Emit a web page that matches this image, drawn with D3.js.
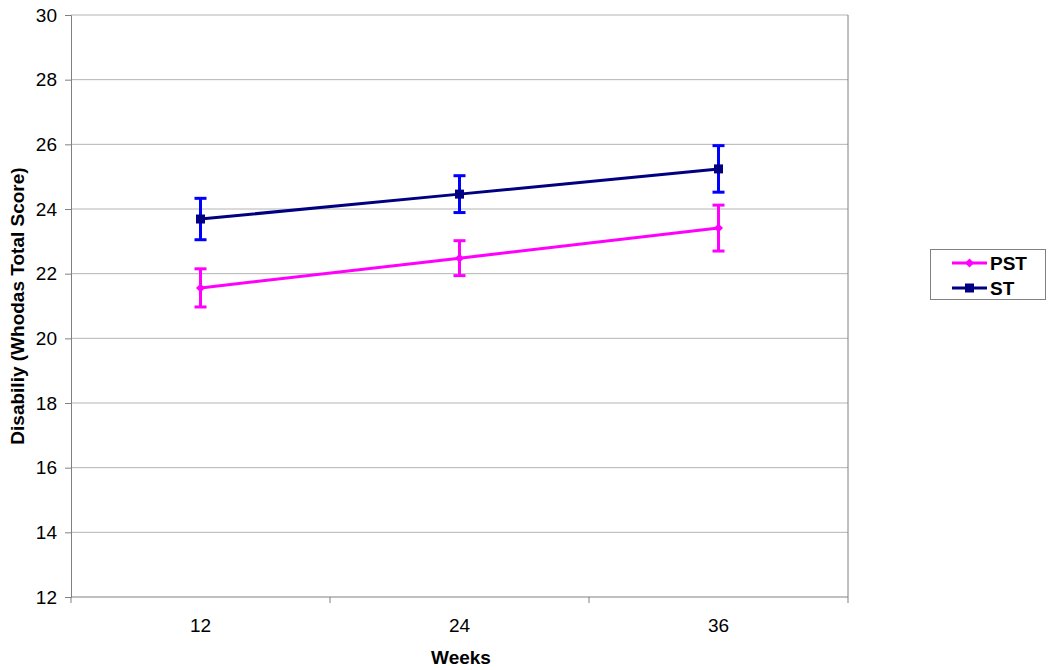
<!DOCTYPE html>
<html>
<head>
<meta charset="utf-8">
<script src="https://cdn.jsdelivr.net/npm/d3@7"></script>
<style>
  body { margin: 0; background: #fff; }
  svg { font-family: "Liberation Sans", Arial, sans-serif; }
</style>
</head>
<body>
<div id="chart"></div>
<script>
// DATA
const weeks = ["12", "24", "36"];
const series_names = ["PST", "ST"];
const pst_values = [21.56, 22.48, 23.41];
const pst_errors = [0.59, 0.54, 0.71];
const st_values = [23.69, 24.46, 25.24];
const st_errors = [0.64, 0.57, 0.72];
const y_ticks = [12, 14, 16, 18, 20, 22, 24, 26, 28, 30];

const series = [
    {name: series_names[0], values: pst_values, errors: pst_errors, line: "#ff00ff", bar: "#ff00ff", marker: "diamond"},
    {name: series_names[1], values: st_values, errors: st_errors, line: "#000080", bar: "#0000ff", marker: "square"},
];

const settings = {
    width: 1050,
    height: 670,
    marginLeft: 71,
    marginTop: 15,
    plotRight: 848,
    plotBottom: 597,
    font: 19,
}

const svg = d3.select("#chart").append("svg")
    .attr("width", settings.width)
    .attr("height", settings.height);

const x = d3.scaleBand()
    .domain(weeks)
    .range([settings.marginLeft, settings.plotRight]);

const y = d3.scaleLinear()
    .domain([12, 30])
    .range([settings.plotBottom, settings.marginTop]);

// gridlines
svg.append("g")
    .selectAll("line")
    .data(y_ticks.filter(d => d > 12))
    .join("line")
    .attr("x1", settings.marginLeft)
    .attr("x2", settings.plotRight)
    .attr("y1", d => y(d))
    .attr("y2", d => y(d))
    .attr("stroke", "#b4b4b4")
    .attr("stroke-width", 1);

// right border
svg.append("line")
    .attr("x1", settings.plotRight).attr("x2", settings.plotRight)
    .attr("y1", settings.marginTop).attr("y2", settings.plotBottom)
    .attr("stroke", "#808080");

// y axis
const yAxis = svg.append("g")
    .attr("transform", `translate(${settings.marginLeft},0)`)
    .call(d3.axisLeft(y).tickValues(y_ticks).tickSize(6).tickPadding(8).tickFormat(d3.format("d")));
yAxis.select(".domain").attr("stroke", "#808080");
yAxis.selectAll(".tick line").attr("stroke", "#808080");
yAxis.selectAll("text")
    .attr("font-size", settings.font)
    .attr("fill", "#000")
    .attr("font-family", "Liberation Sans, Arial, sans-serif");

// x axis (ticks on band edges)
const xAxisG = svg.append("g")
    .attr("transform", `translate(0,${settings.plotBottom})`);
xAxisG.append("line")
    .attr("x1", settings.marginLeft).attr("x2", settings.plotRight)
    .attr("stroke", "#808080");
const edges = weeks.map(d => x(d)).concat([x(weeks[weeks.length - 1]) + x.bandwidth()]);
xAxisG.selectAll(".edge")
    .data(edges)
    .join("line")
    .attr("class", "edge")
    .attr("x1", d => d).attr("x2", d => d)
    .attr("y1", 0).attr("y2", 6)
    .attr("stroke", "#808080");
xAxisG.selectAll("text")
    .data(weeks)
    .join("text")
    .attr("x", d => x(d) + x.bandwidth() / 2)
    .attr("y", 35)
    .attr("text-anchor", "middle")
    .attr("font-size", settings.font)
    .text(d => d);

// axis titles
svg.append("text")
    .attr("x", 461)
    .attr("y", 664)
    .attr("text-anchor", "middle")
    .attr("font-size", settings.font)
    .attr("font-weight", "bold")
    .text("Weeks");

svg.append("text")
    .attr("transform", `translate(23.5,306) rotate(-90)`)
    .attr("text-anchor", "middle")
    .attr("font-size", settings.font)
    .attr("font-weight", "bold")
    .text("Disabiliy (Whodas Total Score)");

const cx = d => x(d) + x.bandwidth() / 2;
const line = d3.line()
    .x((v, i) => cx(weeks[i]))
    .y(v => y(v));

const drawMarker = (g, kind, color) => {
    if (kind === "square") {
        g.append("rect").attr("x", -4.5).attr("y", -4.5).attr("width", 9).attr("height", 9).attr("fill", color);
    } else {
        g.append("path").attr("d", "M0,-4.5L4.5,0L0,4.5L-4.5,0Z").attr("fill", color);
    }
}

series.forEach(s => {
    const g = svg.append("g");

    // error bars
    s.values.forEach((v, i) => {
        const px = cx(weeks[i]);
        const top = y(v + s.errors[i]);
        const bot = y(v - s.errors[i]);
        g.append("line").attr("x1", px).attr("x2", px).attr("y1", top).attr("y2", bot)
            .attr("stroke", s.bar).attr("stroke-width", 3);
        [top, bot].forEach(yy => {
            g.append("line").attr("x1", px - 6).attr("x2", px + 6).attr("y1", yy).attr("y2", yy)
                .attr("stroke", s.bar).attr("stroke-width", 3);
        });
    });

    g.append("path")
        .datum(s.values)
        .attr("d", line)
        .attr("fill", "none")
        .attr("stroke", s.line)
        .attr("stroke-width", 3);

    s.values.forEach((v, i) => {
        const m = g.append("g").attr("transform", `translate(${cx(weeks[i])},${y(v)})`);
        drawMarker(m, s.marker, s.line);
    });
});

// legend
const legend = svg.append("g");
legend.append("rect")
    .attr("x", 930.5).attr("y", 249.5)
    .attr("width", 115).attr("height", 50)
    .attr("fill", "#fff")
    .attr("stroke", "#808080");

series.forEach((s, i) => {
    const ly = 263 + i * 25;
    const item = legend.append("g");
    item.append("line").attr("x1", 952).attr("x2", 987).attr("y1", ly).attr("y2", ly)
        .attr("stroke", s.line).attr("stroke-width", 3);
    const m = item.append("g").attr("transform", `translate(969.5,${ly})`);
    drawMarker(m, s.marker, s.line);
    item.append("text")
        .attr("x", 990).attr("y", ly + 7)
        .attr("font-size", settings.font)
        .attr("font-weight", "bold")
        .text(s.name);
});
</script>
</body>
</html>
